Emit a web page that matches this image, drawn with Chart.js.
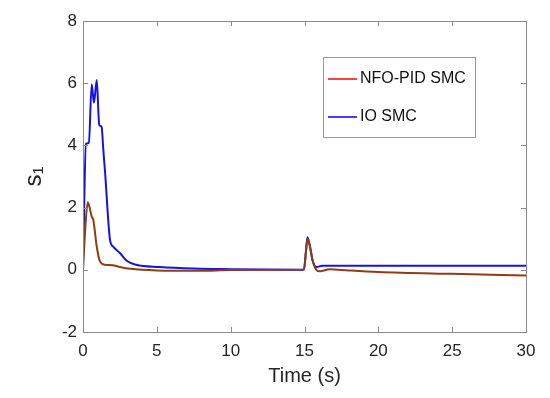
<!DOCTYPE html>
<html>
<head>
<meta charset="utf-8">
<script src="https://cdn.jsdelivr.net/npm/chart.js@4"></script>
<style>
  html, body { margin: 0; padding: 0; background: #fff; }
  canvas { display: block; }
</style>
</head>
<body>
<canvas id="c" width="550" height="398"></canvas>
<script>
// s1 curves
const tNfo = [0, 0.15, 0.32, 0.45, 0.59, 0.7, 0.93, 1.15, 1.49, 2.0, 2.5, 3.2, 5, 8, 10, 14.96, 15.1, 15.2, 15.35, 15.55, 15.8, 16.05, 16.7, 18, 20, 25, 30];
const sNfo = [0, 1.3, 2.17, 2.0, 1.71, 1.6, 0.75, 0.27, 0.16, 0.15, 0.09, 0.03, -0.02, -0.03, -0.01, 0, 0.6, 1.0, 0.8, 0.3, 0.0, -0.05, 0.02, -0.02, -0.07, -0.13, -0.18];

const tIo = [0, 0.2, 0.4, 0.59, 0.74, 0.93, 1.1, 1.26, 1.37, 1.5, 1.83, 2.03, 2.5, 2.96, 3.6, 5.2, 7.5, 10, 14.96, 15.1, 15.2, 15.35, 15.55, 15.82, 16.2, 20, 25, 30];
const sIo = [0, 4.05, 4.08, 5.97, 5.37, 6.1, 4.66, 4.6, 3.9, 3.1, 0.96, 0.75, 0.54, 0.29, 0.16, 0.09, 0.04, 0.02, 0.0, 0.6, 1.05, 0.8, 0.3, 0.09, 0.13, 0.13, 0.13, 0.13];

const seriesNames = ["NFO-PID SMC", "IO SMC"];
const legendColors = ["#ff0000", "#0000ff"];
const xTicks = [0, 5, 10, 15, 20, 25, 30];
const yTicks = [-2, 0, 2, 4, 6, 8];

const toPoints = (ts, ys) => ts.map((t, i) => ({ x: t, y: ys[i] }));

const axisColor = "#8a8a8a";
const textColor = "#262626";

// matlab style box with inward ticks
const boxPlugin = {
  id: "box",
  afterDraw(chart) {
    const { ctx, chartArea: a, scales } = chart;
    ctx.save();
    ctx.strokeStyle = axisColor;
    ctx.lineWidth = 1;
    ctx.strokeRect(a.left + 0.5, a.top + 0.5, a.right - a.left, a.bottom - a.top);
    const len = 5;
    ctx.beginPath();
    xTicks.forEach(v => {
      const px = Math.round(scales.x.getPixelForValue(v)) + 0.5;
      ctx.moveTo(px, a.bottom); ctx.lineTo(px, a.bottom - len);
      ctx.moveTo(px, a.top); ctx.lineTo(px, a.top + len);
    });
    yTicks.forEach(v => {
      const py = Math.round(scales.y.getPixelForValue(v)) + 0.5;
      ctx.moveTo(a.left, py); ctx.lineTo(a.left + len, py);
      ctx.moveTo(a.right, py); ctx.lineTo(a.right - len, py);
    });
    ctx.stroke();

    // legend box
    const lx = 323, ly = 57, lw = 152, lh = 80;
    ctx.fillStyle = "#fff";
    ctx.fillRect(lx, ly, lw, lh);
    ctx.strokeStyle = "#9a9a9a";
    ctx.strokeRect(lx + 0.5, ly + 0.5, lw, lh);
    ctx.font = "16px 'Liberation Sans', Arial, sans-serif";
    ctx.textBaseline = "middle";
    seriesNames.forEach((name, i) => {
      const y = ly + 22 + i * 38;
      ctx.strokeStyle = legendColors[i];
      ctx.lineWidth = 1.5;
      ctx.beginPath();
      ctx.moveTo(lx + 5, y); ctx.lineTo(lx + 34, y);
      ctx.stroke();
      ctx.fillStyle = "#111";
      ctx.fillText(name, lx + 37, y);
    });
    ctx.restore();
  }
};

new Chart(document.getElementById("c"), {
  type: "line",
  data: {
    datasets: [
      {
        label: seriesNames[0],
        data: toPoints(tNfo, sNfo),
        borderColor: "#8f3d12",
        borderWidth: 2,
        pointRadius: 0,
        cubicInterpolationMode: "monotone",
        fill: false
      },
      {
        label: seriesNames[1],
        data: toPoints(tIo, sIo),
        borderColor: "#1414e0",
        borderWidth: 2,
        pointRadius: 0,
        cubicInterpolationMode: "monotone",
        fill: false
      }
    ]
  },
  options: {
    responsive: false,
    animation: false,
    layout: { padding: { left: 0, right: 24, top: 21, bottom: 0 } },
    plugins: { legend: { display: false }, tooltip: { enabled: false } },
    scales: {
      x: {
        type: "linear",
        min: 0, max: 30,
        afterBuildTicks: s => { s.ticks = xTicks.map(v => ({ value: v })); },
        afterFit: s => { s.height = 66; },
        grid: { display: false, drawTicks: false },
        border: { display: false },
        ticks: { color: textColor, font: { size: 17, family: "'Liberation Sans', Arial" }, padding: 9, maxRotation: 0 },
        title: { display: true, text: "Time (s)", color: textColor, font: { size: 20, family: "'Liberation Sans', Arial" }, padding: { bottom: 10, top: 0 } }
      },
      y: {
        min: -2, max: 8,
        afterBuildTicks: s => { s.ticks = yTicks.map(v => ({ value: v })); },
        afterFit: s => { s.width = 83; },
        grid: { display: false, drawTicks: false },
        border: { display: false },
        ticks: { color: textColor, font: { size: 17, family: "'Liberation Sans', Arial" }, padding: 6 },
        title: { display: true, text: "s\u2081", color: textColor, font: { size: 24, family: "'Liberation Sans', Arial" }, padding: { top: 20, bottom: 0 } }
      }
    }
  },
  plugins: [boxPlugin]
});
</script>
</body>
</html>
